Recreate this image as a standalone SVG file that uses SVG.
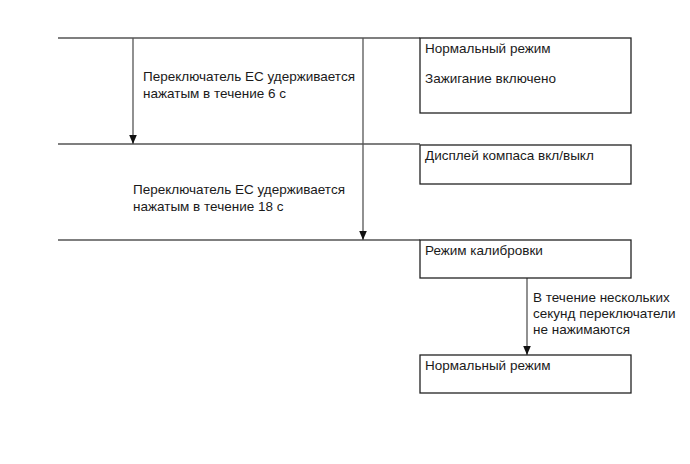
<svg xmlns="http://www.w3.org/2000/svg" width="690" height="464" viewBox="0 0 690 464">
<style>
.box{fill:#fff;stroke:#222;stroke-width:1.3}
.ln{stroke:#555;stroke-width:1.3;fill:none}
.t{font-family:"Liberation Sans",Arial,sans-serif;font-size:13.5px;fill:#1a1a1a}
</style>
<defs>
<marker id="ah" markerWidth="10" markerHeight="10" refX="9" refY="5" orient="auto" markerUnits="userSpaceOnUse">
<path d="M0,1.2 L9,5 L0,8.8 Z" fill="#111"/>
</marker>
</defs>
<rect width="690" height="464" fill="#fff"/>
<g id="connectors">
<line class="ln" x1="58" y1="38" x2="420" y2="38"/>
<line class="ln" x1="58" y1="144" x2="420" y2="144"/>
<line class="ln" x1="58" y1="240" x2="420" y2="240"/>
<line class="ln" x1="133" y1="38" x2="133" y2="144" marker-end="url(#ah)"/>
<line class="ln" x1="363" y1="38" x2="363" y2="240" marker-end="url(#ah)"/>
<line class="ln" x1="527" y1="278" x2="527" y2="355" marker-end="url(#ah)"/>
<text class="t" x="143" y="81">Переключатель ЕС удерживается</text>
<text class="t" x="143" y="98">нажатым в течение 6 с</text>
<text class="t" x="133" y="194">Переключатель ЕС удерживается</text>
<text class="t" x="133" y="211">нажатым в течение 18 с</text>
<text class="t" x="533" y="302">В течение нескольких</text>
<text class="t" x="533" y="318">секунд переключатели</text>
<text class="t" x="533" y="334">не нажимаются</text>
</g>
<g id="n1">
<rect class="box" x="420" y="38" width="211" height="75"/>
<text class="t" x="425" y="53">Нормальный режим</text>
<text class="t" x="425" y="83">Зажигание включено</text>
</g>
<g id="n2">
<rect class="box" x="420" y="145" width="211" height="39"/>
<text class="t" x="425" y="160">Дисплей компаса вкл/выкл</text>
</g>
<g id="n3">
<rect class="box" x="420" y="240" width="211" height="38"/>
<text class="t" x="425" y="255">Режим калибровки</text>
</g>
<g id="n4">
<rect class="box" x="420" y="355" width="211" height="38"/>
<text class="t" x="425" y="370">Нормальный режим</text>
</g>
</svg>
